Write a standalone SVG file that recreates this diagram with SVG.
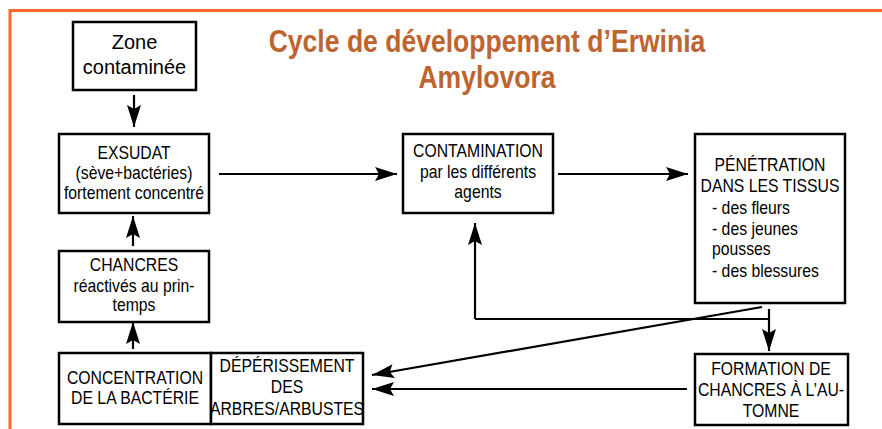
<svg xmlns="http://www.w3.org/2000/svg" width="882" height="429" viewBox="0 0 882 429">
<style>
.box{fill:#fff;stroke:#000;stroke-width:2.5}
.t{font-family:"Liberation Sans",Arial,sans-serif;font-size:19px;fill:#000}
.c{text-anchor:middle}
.title{font-family:"Liberation Sans",Arial,sans-serif;font-size:32px;font-weight:bold;fill:#bd6430;text-anchor:middle}
.conn path{fill:none;stroke:#000;stroke-width:2.2;marker-end:url(#ah)}
.conn path.plain{marker-end:none}
</style>
<defs>
<marker id="ah" markerUnits="userSpaceOnUse" viewBox="0 0 22 14" refX="22" refY="7" markerWidth="22" markerHeight="14" orient="auto">
<path d="M0,0 L22,7 L0,14 L4,7 Z" fill="#000"/>
</marker>
</defs>
<rect x="0" y="0" width="882" height="429" fill="#fff"/>
<rect x="10" y="10.5" width="900" height="440" fill="none" stroke="#f26a2a" stroke-width="3"/>
<g id="title">
<text class="title" transform="matrix(0.83,0,0,1,487,0)"><tspan x="0" y="52">Cycle de développement d’Erwinia</tspan><tspan x="0" y="88">Amylovora</tspan></text>
</g>
<g id="zone">
<rect class="box" x="73" y="22" width="123" height="68"/>
<text class="t c" style="font-size:20px"><tspan x="134.5" y="49">Zone</tspan><tspan x="134.5" y="74">contaminée</tspan></text>
</g>
<g id="exsudat">
<rect class="box" x="59" y="134" width="150" height="79"/>
<text class="t c" transform="matrix(0.83,0,0,1,134,0)"><tspan x="0" y="159">EXSUDAT</tspan><tspan x="0" y="179">(sève+bactéries)</tspan><tspan x="0" y="199">fortement concentré</tspan></text>
</g>
<g id="contamination">
<rect class="box" x="403" y="134" width="150" height="79"/>
<text class="t c" transform="matrix(0.83,0,0,1,478,0)"><tspan x="0" y="157">CONTAMINATION</tspan><tspan x="0" y="178">par les différents</tspan><tspan x="0" y="198">agents</tspan></text>
</g>
<g id="penetration">
<rect class="box" x="695" y="134" width="150" height="169"/>
<text class="t c" transform="matrix(0.83,0,0,1,770,0)"><tspan x="0" y="171">PÉNÉTRATION</tspan><tspan x="0" y="192">DANS LES TISSUS</tspan></text>
<text class="t" transform="matrix(0.83,0,0,1,712,0)"><tspan x="0" y="214">- des fleurs</tspan><tspan x="0" y="235">- des jeunes</tspan><tspan x="0" y="255">pousses</tspan><tspan x="0" y="277">- des blessures</tspan></text>
</g>
<g id="chancres">
<rect class="box" x="59" y="251" width="150" height="71"/>
<text class="t c" transform="matrix(0.83,0,0,1,134,0)"><tspan x="0" y="271">CHANCRES</tspan><tspan x="0" y="292">réactivés au prin-</tspan><tspan x="0" y="311">temps</tspan></text>
</g>
<g id="concentration">
<rect class="box" x="59" y="353" width="152" height="71"/>
<text class="t c" transform="matrix(0.83,0,0,1,135,0)"><tspan x="0" y="384">CONCENTRATION</tspan><tspan x="0" y="404">DE LA BACTÉRIE</tspan></text>
</g>
<g id="deperissement">
<rect class="box" x="211" y="353" width="152" height="71"/>
<text class="t c" transform="matrix(0.83,0,0,1,287,0)"><tspan x="0" y="372">DÉPÉRISSEMENT</tspan><tspan x="0" y="393">DES</tspan><tspan x="0" y="415">ARBRES/ARBUSTES</tspan></text>
</g>
<g id="formation">
<rect class="box" x="695" y="354" width="153" height="71"/>
<text class="t c" transform="matrix(0.83,0,0,1,771,0)"><tspan x="0" y="375">FORMATION DE</tspan><tspan x="0" y="396">CHANCRES À L’AU-</tspan><tspan x="0" y="417">TOMNE</tspan></text>
</g>
<g id="connectors" class="conn">
<path d="M134,95 V127"/>
<path d="M219,174 H397"/>
<path d="M558,174 H688"/>
<path d="M769,309 V351"/>
<path class="plain" d="M769,319 H475"/>
<path d="M475,319 V223"/>
<path d="M762,307 L372,375"/>
<path d="M687,389 H372"/>
<path d="M133,246 V216"/>
<path d="M133,349 V322"/>
</g>
</svg>
